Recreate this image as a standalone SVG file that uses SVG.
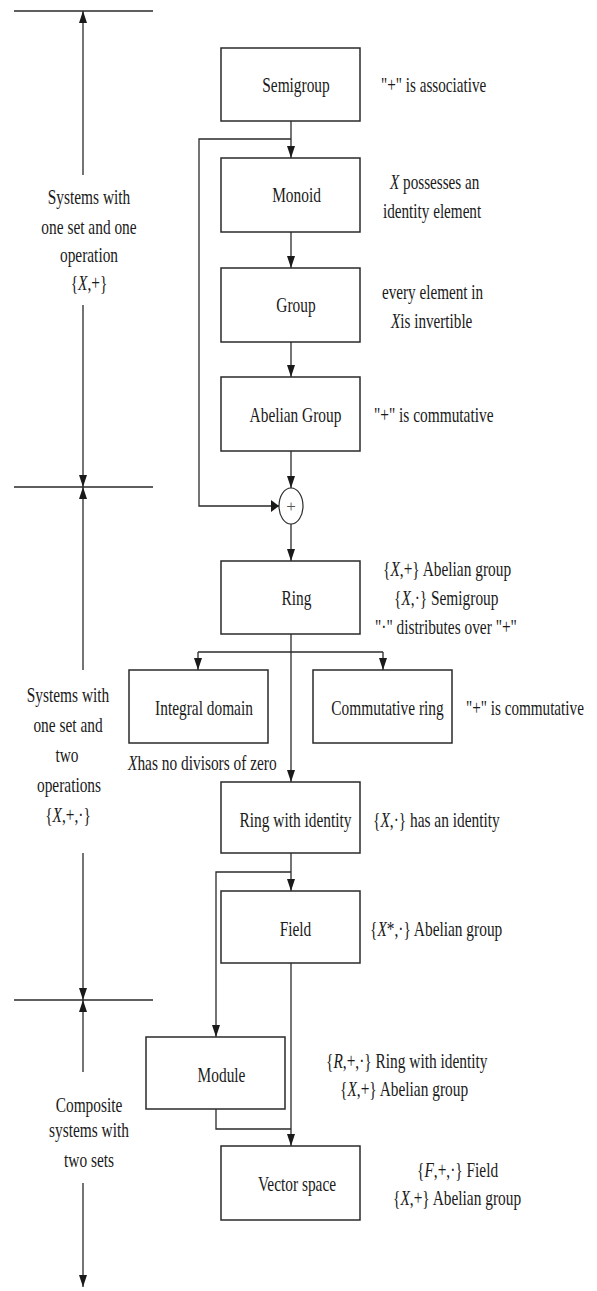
<svg xmlns="http://www.w3.org/2000/svg" width="597" height="1291" viewBox="0 0 597 1291">
<style>
.box{fill:#fff;stroke:#2a2a2a;stroke-width:1.5}
.ln{fill:none;stroke:#2a2a2a;stroke-width:1.3}
text{font-family:"Liberation Serif","Times New Roman",serif;font-size:22px;fill:#1a1a1a}
.m{text-anchor:middle}
.i{font-style:italic}
</style>
<defs>
<marker id="av" markerUnits="userSpaceOnUse" orient="auto" refX="12" refY="0" markerWidth="14" markerHeight="12" viewBox="0 -6 14 12" overflow="visible"><path d="M0,-4 L12,0 L0,4 z" fill="#1a1a1a"/></marker>
<marker id="ah" markerUnits="userSpaceOnUse" orient="auto" refX="8" refY="0" markerWidth="10" markerHeight="14" viewBox="0 -7 10 14" overflow="visible"><path d="M0,-6 L8,0 L0,6 z" fill="#1a1a1a"/></marker>
</defs>

<g id="axis">
<line class="ln" x1="14" y1="11" x2="153" y2="11"/>
<line class="ln" x1="14" y1="487" x2="153" y2="487"/>
<line class="ln" x1="14" y1="1000" x2="153" y2="1000"/>
<line class="ln" x1="83" y1="175" x2="83" y2="11" marker-end="url(#av)"/>
<line class="ln" x1="83" y1="305" x2="83" y2="487" marker-end="url(#av)"/>
<line class="ln" x1="83" y1="670" x2="83" y2="487" marker-end="url(#av)"/>
<line class="ln" x1="83" y1="853" x2="83" y2="1000" marker-end="url(#av)"/>
<line class="ln" x1="83" y1="1072" x2="83" y2="1000" marker-end="url(#av)"/>
<line class="ln" x1="83" y1="1183" x2="83" y2="1287" marker-end="url(#av)"/>
</g>

<g id="label-one-op">
<text class="m" transform="translate(89,204) scale(0.7,1)">Systems with</text>
<text class="m" transform="translate(89,234) scale(0.7,1)">one set and one</text>
<text class="m" transform="translate(89,262) scale(0.7,1)">operation</text>
<text class="m" transform="translate(89,290) scale(0.7,1)">{<tspan class="i">X</tspan>,+}</text>
</g>
<g id="label-two-op">
<text class="m" transform="translate(68,702) scale(0.7,1)">Systems with</text>
<text class="m" transform="translate(68,732) scale(0.7,1)">one set and</text>
<text class="m" transform="translate(67,762) scale(0.7,1)">two</text>
<text class="m" transform="translate(69,792) scale(0.7,1)">operations</text>
<text class="m" transform="translate(68,822) scale(0.7,1)">{<tspan class="i">X</tspan>,+,·}</text>
</g>
<g id="label-composite">
<text class="m" transform="translate(89,1112) scale(0.7,1)">Composite</text>
<text class="m" transform="translate(89,1137) scale(0.7,1)">systems with</text>
<text class="m" transform="translate(89,1167) scale(0.7,1)">two sets</text>
</g>

<g id="connectors">
<line class="ln" x1="291" y1="121" x2="291" y2="158" marker-end="url(#av)"/>
<polyline class="ln" points="291,139 199,139 199,506 279,506" marker-end="url(#ah)"/>
<line class="ln" x1="291" y1="232" x2="291" y2="268" marker-end="url(#av)"/>
<line class="ln" x1="291" y1="342" x2="291" y2="377" marker-end="url(#av)"/>
<line class="ln" x1="291" y1="451" x2="291" y2="488" marker-end="url(#av)"/>
<line class="ln" x1="291" y1="524" x2="291" y2="561" marker-end="url(#av)"/>
<line class="ln" x1="291" y1="634" x2="291" y2="782" marker-end="url(#av)"/>
<line class="ln" x1="198" y1="652" x2="383" y2="652"/>
<line class="ln" x1="198" y1="652" x2="198" y2="670" marker-end="url(#av)"/>
<line class="ln" x1="383" y1="652" x2="383" y2="670" marker-end="url(#av)"/>
<line class="ln" x1="291" y1="853" x2="291" y2="891" marker-end="url(#av)"/>
<polyline class="ln" points="291,872 216,872 216,1037" marker-end="url(#av)"/>
<line class="ln" x1="291" y1="963" x2="291" y2="1146" marker-end="url(#av)"/>
<polyline class="ln" points="216,1109 216,1129 291,1129"/>
</g>

<g id="semigroup">
<rect class="box" x="221" y="48" width="139" height="73"/>
<text class="m" transform="translate(296,92) scale(0.7,1)">Semigroup</text>
<text transform="translate(381,92) scale(0.69,1)">"+" is associative</text>
</g>
<g id="monoid">
<rect class="box" x="221" y="158" width="139" height="74"/>
<text class="m" transform="translate(296.5,202) scale(0.7,1)">Monoid</text>
<text transform="translate(390,189) scale(0.69,1)"><tspan class="i">X</tspan> possesses an</text>
<text transform="translate(383,218) scale(0.69,1)">identity element</text>
</g>
<g id="group">
<rect class="box" x="221" y="268" width="139" height="74"/>
<text class="m" transform="translate(296,312) scale(0.7,1)">Group</text>
<text transform="translate(382,299) scale(0.69,1)">every element in</text>
<text transform="translate(391,328) scale(0.69,1)"><tspan class="i">X</tspan>is invertible</text>
</g>
<g id="abelian-group">
<rect class="box" x="221" y="377" width="139" height="74"/>
<text class="m" transform="translate(295.5,422) scale(0.7,1)">Abelian Group</text>
<text transform="translate(374,422) scale(0.7,1)">"+" is commutative</text>
</g>
<g id="sum">
<ellipse cx="291" cy="506" rx="12" ry="18" fill="#fff" stroke="#2a2a2a" stroke-width="1.2"/>
<text class="m" x="291" y="512" style="font-size:17px;fill:#555">+</text>
</g>
<g id="ring">
<rect class="box" x="221" y="561" width="139" height="73"/>
<text class="m" transform="translate(296.5,605) scale(0.7,1)">Ring</text>
<text transform="translate(383,576) scale(0.7,1)">{<tspan class="i">X</tspan>,+} Abelian group</text>
<text transform="translate(394,605) scale(0.7,1)">{<tspan class="i">X</tspan>,·} Semigroup</text>
<text transform="translate(375,634) scale(0.7,1)">"·" distributes over  "+"</text>
</g>
<g id="integral-domain">
<rect class="box" x="129" y="670" width="139" height="73"/>
<text class="m" transform="translate(204,715) scale(0.7,1)">Integral domain</text>
<text transform="translate(128,770) scale(0.7,1)"><tspan class="i">X</tspan>has no divisors of zero</text>
</g>
<g id="commutative-ring">
<rect class="box" x="313" y="670" width="139" height="73"/>
<text class="m" transform="translate(387.5,715) scale(0.7,1)">Commutative ring</text>
<text transform="translate(466,715) scale(0.69,1)">"+" is commutative</text>
</g>
<g id="ring-with-identity">
<rect class="box" x="221" y="782" width="139" height="71"/>
<text class="m" transform="translate(295.5,827) scale(0.7,1)">Ring with identity</text>
<text transform="translate(373,827) scale(0.7,1)">{<tspan class="i">X</tspan>,·} has an identity</text>
</g>
<g id="field">
<rect class="box" x="221" y="891" width="139" height="72"/>
<text class="m" transform="translate(295.5,936) scale(0.7,1)">Field</text>
<text transform="translate(370,936) scale(0.7,1)">{<tspan class="i">X</tspan>*,·} Abelian group</text>
</g>
<g id="module">
<rect class="box" x="146" y="1037" width="139" height="72"/>
<text class="m" transform="translate(221.5,1082) scale(0.7,1)">Module</text>
<text transform="translate(326,1068) scale(0.7,1)">{<tspan class="i">R</tspan>,+,·} Ring with identity</text>
<text transform="translate(340,1096) scale(0.7,1)">{<tspan class="i">X</tspan>,+} Abelian group</text>
</g>
<g id="vector-space">
<rect class="box" x="221" y="1146" width="139" height="74"/>
<text class="m" transform="translate(297,1191) scale(0.7,1)">Vector space</text>
<text transform="translate(417,1177) scale(0.7,1)">{<tspan class="i">F</tspan>,+,·} Field</text>
<text transform="translate(393,1205) scale(0.7,1)">{<tspan class="i">X</tspan>,+} Abelian group</text>
</g>
</svg>
